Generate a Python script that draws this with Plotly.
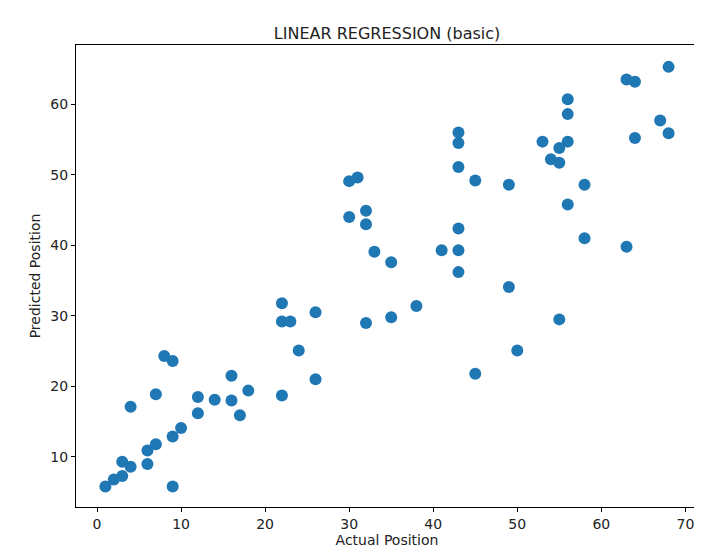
import plotly.graph_objects as go

actual = [1,2,3,3,4,4,6,6,7,7,8,9,9,9,10,12,12,14,16,16,17,18,22,22,22,23,24,26,26,30,31,30,32,32,33,32,35,35,38,41,43,43,43,43,43,43,45,45,49,49,50,53,54,55,55,56,56,56,56,55,58,58,63,64,64,63,67,68,68]
predicted = [5.8,6.8,7.3,9.3,8.6,17.1,9.0,10.9,11.8,18.9,24.3,23.6,12.9,5.8,14.1,18.5,16.2,18.1,18.0,21.5,15.9,19.4,18.7,31.8,29.2,29.2,25.1,21.0,30.5,49.1,49.6,44.0,44.9,43.0,39.1,29.0,37.6,29.8,31.4,39.3,56.0,54.5,51.1,42.4,39.3,36.2,49.2,21.8,48.6,34.1,25.1,54.7,52.2,53.8,51.7,60.7,58.6,54.7,45.8,29.5,48.6,41.0,63.5,63.2,55.2,39.8,57.7,65.3,55.9]

fig = go.Figure(go.Scatter(x=actual, y=predicted, mode="markers",
    marker=dict(color="#1f77b4", size=12, line=dict(width=0))))
ax = dict(showline=True, linecolor="black", linewidth=1, mirror=True, ticks="outside",
          ticklen=4, tickcolor="black", showgrid=False, zeroline=False, automargin=False,
          tickfont=dict(size=14, color="#222"))
fig.update_layout(
    width=702, height=557, plot_bgcolor="white", paper_bgcolor="white",
    margin=dict(l=68, r=12, t=37, b=58),
    font=dict(family="DejaVu Sans", color="#222"),
    title=dict(text="LINEAR REGRESSION (basic)", x=0.54, xanchor="center", y=0.955, yanchor="middle", font=dict(size=16)),
    xaxis=dict(ax, range=[-2.5, 71.5], tickvals=[0,10,20,30,40,50,60,70],
               title=dict(text="Actual Position", font=dict(size=14), standoff=4)),
    yaxis=dict(ax, range=[2.9, 68.4], tickvals=[10,20,30,40,50,60],
               title=dict(text="Predicted Position", font=dict(size=14), standoff=6)),
)
fig.write_html("out.html")
